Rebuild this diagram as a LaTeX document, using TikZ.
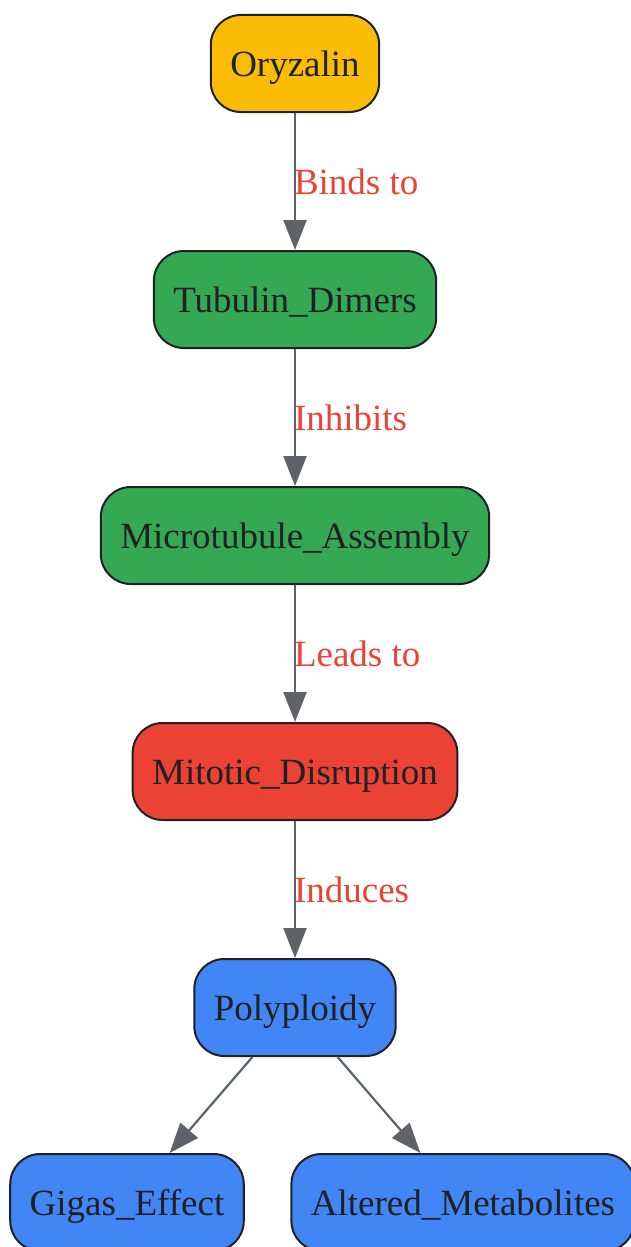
\documentclass[tikz,border=0pt]{standalone}
\usepackage{fontspec}
\setmainfont{Liberation Serif}
\usepackage{tikz}
\usetikzlibrary{arrows.meta}
\usetikzlibrary{positioning}
\definecolor{oryzyellow}{HTML}{FBBC05}
\definecolor{tubgreen}{HTML}{34A853}
\definecolor{mitred}{HTML}{EA4335}
\definecolor{polyblue}{HTML}{4285F4}
\definecolor{nodeline}{HTML}{202124}
\definecolor{edgegray}{HTML}{5F6368}

\begin{document}
\begin{tikzpicture}[x=1pt,y=1pt,->,>={Triangle[length=30pt,width=23pt]},auto,node distance=236pt,
                    main node/.style={rectangle,rounded corners=30pt,draw=nodeline,line width=2pt,
                    minimum height=97pt,inner xsep=19.5pt,text height=26pt,text depth=0pt,
                    text=nodeline,font=\fontsize{37}{44}\selectfont},
                    main edge/.style={draw=edgegray,line width=2.2pt}]

\useasboundingbox (0,0) rectangle (631,-1247);

\node[main node, fill=oryzyellow] (oryz) at (295,-63.5) {Oryzalin};
\node[main node, fill=tubgreen] (tub) [below of=oryz] {Tubulin\_Dimers};
\node[main node, fill=tubgreen] (mta) [below of=tub] {Microtubule\_Assembly};
\node[main node, fill=mitred] (mit) [below of=mta] {Mitotic\_Disruption};
\node[main node, fill=polyblue] (poly) [below of=mit] {Polyploidy};
\node[main node, fill=polyblue] (gig) at (127,-1202.5) {Gigas\_Effect};
\node[main node, fill=polyblue] (alt) at (463,-1202.5) {Altered\_Metabolites};

  \path[every edge/.style={main edge},
        every node/.style={font=\fontsize{37}{44}\selectfont,text=mitred,inner xsep=0pt,
                           outer sep=0pt,text height=26pt,text depth=0pt,xshift=-1pt}]
    (oryz) edge node {Binds to} (tub)
    (tub) edge node {Inhibits} (mta)
    (mta) edge node {Leads to} (mit)
    (mit) edge node {Induces} (poly)
    (poly) edge (gig)
           edge (alt)
;
\end{tikzpicture}
\end{document}
